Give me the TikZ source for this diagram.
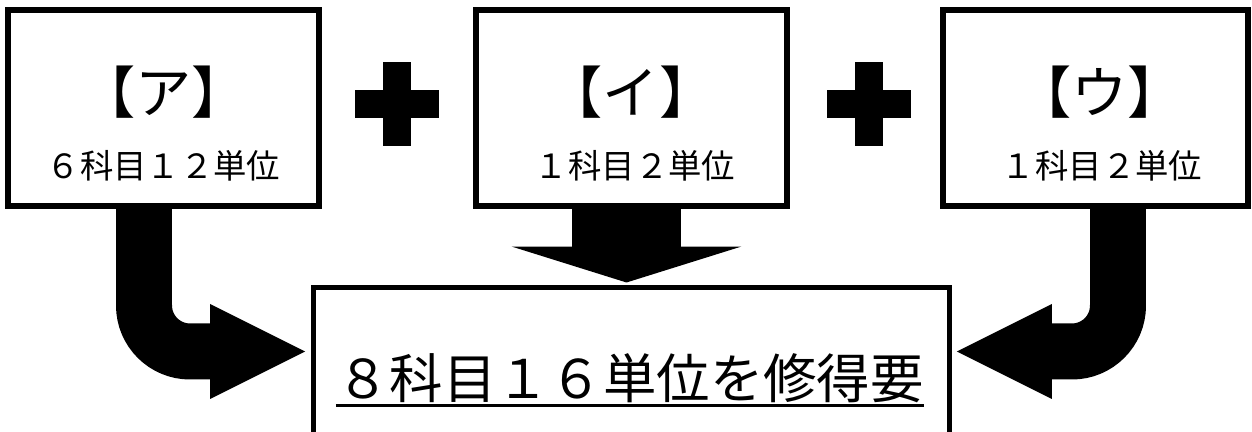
\documentclass[tikz,border=0pt]{standalone}
\usepackage{fontspec}
\newfontfamily\jpfont{Noto Sans CJK JP}
\usetikzlibrary{arrows.meta, positioning, calc}

\begin{document}
\begin{tikzpicture}[
  x=0.02cm, y=-0.02cm,
  ubox/.style={draw, line width=0.12cm, minimum width=6.24cm, minimum height=3.92cm, inner sep=0pt},
  goalbox/.style={draw, line width=0.1cm, minimum width=12.72cm, minimum height=5cm, inner sep=0pt},
  headtxt/.style={font=\jpfont\fontsize{32}{38}\selectfont, inner sep=0pt},
  subtxt/.style={font=\jpfont\fontsize{19}{23}\selectfont, inner sep=0pt},
  goaltxt/.style={font=\jpfont\fontsize{30.4}{36}\selectfont, inner sep=0pt},
  bigarrow/.style={line width=1.12cm, rounded corners=0.92cm, -{Triangle[length=1.9cm, width=1.9cm, line width=0pt]}},
  downarrow/.style={line width=2.2cm, -{Triangle[length=0.72cm, width=4.6cm, line width=0pt]}}
]
  \useasboundingbox (0,0) rectangle (1252,432);
  \clip (0,0) rectangle (1252,432);

  % three source boxes
  \node[ubox] (boxA) at (163.5,108) {};
  \node[ubox] (boxI) at (631.5,108) {};
  \node[ubox, minimum width=6.1cm] (boxU) at (1095.5,108) {};

  \node[headtxt] (headA) at (163.5,92) {【ア】};
  \node[subtxt] (subA) at (163.5,166) {６科目１２単位};
  \node[headtxt] (headI) at (631,92) {【イ】};
  \node[subtxt] (subI) at (635,166) {１科目２単位};
  \node[headtxt] (headU) at (1099.5,92) {【ウ】};
  \node[subtxt] (subU) at (1102,166) {１科目２単位};

  % plus signs
  \fill (383,62) rectangle (411,146);
  \fill (355,90) rectangle (439,118);
  \fill (855,62) rectangle (883,146);
  \fill (827,90) rectangle (911,118);

  % result box
  \node[goalbox, anchor=north] (goal) at (631.5,285.5) {};
  \node[goaltxt] (goaltext) at (630,378.5) {８科目１６単位を修得要};
  \draw[line width=0.06cm] ([yshift=-0.04cm]goaltext.south west) -- ([yshift=-0.04cm]goaltext.south east);

  % arrows into the result
  \draw[bigarrow] ([xshift=-0.39cm]boxA.south) |- ([xshift=-0.12cm, yshift=-1.32cm]goal.north west);
  \draw[bigarrow] ([xshift=0.45cm]boxU.south) |- ([xshift=0.1cm, yshift=-1.32cm]goal.north east);
  \draw[downarrow] ([xshift=-0.1cm]boxI.south) -- ([xshift=-0.1cm, yshift=0.06cm]goal.north);
\end{tikzpicture}
\end{document}
